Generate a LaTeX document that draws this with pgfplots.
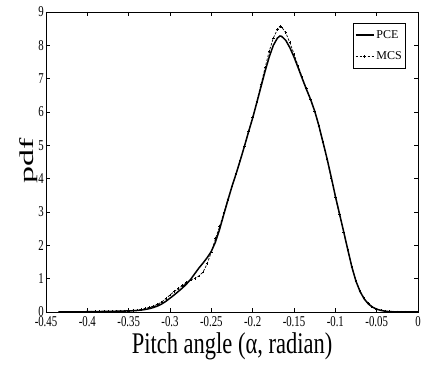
\documentclass[border=0pt]{standalone}
\usepackage{pgfplots}
\pgfplotsset{compat=1.18}
\usepackage{pgfplotstable}
\usepackage{graphicx}
\usepackage{fontspec}
\setmainfont{Liberation Serif}
\newcommand{\sx}[1]{\scalebox{0.72}[1]{#1}}

\pgfplotstableread{
x y
-0.435 0.000
-0.430 0.001
-0.425 0.002
-0.420 0.003
-0.415 0.004
-0.410 0.005
-0.405 0.006
-0.400 0.008
-0.395 0.010
-0.390 0.012
-0.385 0.014
-0.380 0.016
-0.375 0.018
-0.370 0.020
-0.365 0.023
-0.360 0.026
-0.355 0.029
-0.350 0.033
-0.345 0.038
-0.340 0.045
-0.335 0.058
-0.330 0.075
-0.325 0.100
-0.320 0.135
-0.315 0.180
-0.310 0.240
-0.305 0.320
-0.300 0.415
-0.295 0.510
-0.290 0.615
-0.285 0.720
-0.280 0.840
-0.275 0.980
-0.270 1.150
-0.265 1.320
-0.260 1.470
-0.255 1.630
-0.250 1.820
-0.245 2.100
-0.240 2.480
-0.235 2.920
-0.230 3.350
-0.225 3.770
-0.220 4.150
-0.215 4.550
-0.210 4.970
-0.205 5.400
-0.200 5.820
-0.195 6.280
-0.190 6.750
-0.185 7.220
-0.180 7.650
-0.175 8.000
-0.170 8.220
-0.167 8.280
-0.165 8.270
-0.160 8.150
-0.155 7.930
-0.150 7.650
-0.145 7.330
-0.140 7.000
-0.135 6.680
-0.130 6.380
-0.125 6.030
-0.120 5.600
-0.115 5.100
-0.110 4.600
-0.105 4.050
-0.100 3.480
-0.095 2.950
-0.090 2.420
-0.085 1.880
-0.080 1.350
-0.075 0.920
-0.070 0.610
-0.065 0.390
-0.060 0.240
-0.055 0.145
-0.050 0.085
-0.045 0.048
-0.040 0.025
-0.035 0.012
-0.030 0.006
-0.025 0.003
-0.020 0.001
-0.010 0.000
0.000 0.000
}\pce

\pgfplotstableread{
x y
-0.400 0.005
-0.395 0.008
-0.390 0.010
-0.385 0.012
-0.380 0.014
-0.375 0.016
-0.370 0.019
-0.365 0.022
-0.360 0.026
-0.355 0.030
-0.350 0.036
-0.345 0.044
-0.340 0.055
-0.335 0.072
-0.330 0.100
-0.325 0.140
-0.320 0.180
-0.315 0.230
-0.310 0.300
-0.305 0.400
-0.300 0.510
-0.295 0.610
-0.290 0.700
-0.285 0.790
-0.280 0.880
-0.275 0.960
-0.270 1.010
-0.265 1.080
-0.260 1.200
-0.255 1.450
-0.250 1.800
-0.245 2.200
-0.240 2.560
-0.235 2.960
-0.230 3.380
-0.225 3.780
-0.220 4.150
-0.215 4.560
-0.210 4.980
-0.205 5.410
-0.200 5.840
-0.195 6.320
-0.190 6.820
-0.185 7.330
-0.180 7.820
-0.175 8.220
-0.170 8.480
-0.167 8.560
-0.165 8.550
-0.160 8.380
-0.155 8.080
-0.150 7.740
-0.145 7.380
-0.140 7.030
-0.135 6.700
-0.130 6.390
-0.125 6.030
-0.120 5.580
-0.115 5.080
-0.110 4.570
-0.105 4.020
-0.100 3.450
-0.095 2.930
-0.090 2.400
-0.085 1.870
-0.080 1.350
-0.075 0.930
-0.070 0.620
-0.065 0.400
-0.060 0.250
-0.055 0.150
-0.050 0.090
-0.045 0.052
-0.040 0.028
-0.035 0.014
-0.030 0.007
-0.025 0.003
-0.020 0.001
-0.015 0.000
}\mcs

\begin{document}
\begin{tikzpicture}
\begin{axis}[
  name=ax,
  scale only axis,
  width=372pt, height=300pt,
  xmin=-0.45, xmax=0, ymin=0, ymax=9,
  xtick={-0.45,-0.4,-0.35,-0.3,-0.25,-0.2,-0.15,-0.1,-0.05,0},
  xticklabels={\sx{-0.45},\sx{-0.4},\sx{-0.35},\sx{-0.3},\sx{-0.25},\sx{-0.2},\sx{-0.15},\sx{-0.1},\sx{-0.05},\sx{0}},
  ytick={0,1,2,3,4,5,6,7,8,9},
  yticklabels={\sx{0},\sx{1},\sx{2},\sx{3},\sx{4},\sx{5},\sx{6},\sx{7},\sx{8},\sx{9}},
  tick align=inside,
  major tick length=4pt,
  every tick/.style={black, line width=0.5pt},
  axis line style={line width=0.8pt},
  tick label style={font=\fontsize{15}{15}\selectfont},
  xticklabel style={inner ysep=0pt, yshift=-4pt},
  yticklabel style={inner xsep=0pt, xshift=-2pt},
  xlabel={\scalebox{0.75}[1]{Pitch angle (α, radian)}},
  xlabel style={font=\fontsize{30}{30}\selectfont, at={(axis description cs:0.5,0)}, anchor=base, yshift=-42pt, inner sep=0pt},
  ylabel={\scalebox{1}[0.58]{pdf}},
  ylabel style={font=\fontsize{34}{34}\selectfont, at={(axis description cs:-0.047,0.505)}, anchor=center, inner sep=0pt},
  legend style={at={(axis description cs:1,1)}, anchor=north east, xshift=-12pt, yshift=-11pt,
    draw=black, line width=0.6pt, font=\fontsize{12}{12}\selectfont, inner xsep=2pt, inner ysep=5pt, row sep=8pt,
    legend cell align=left},
  legend image code/.code={\draw[mark repeat=2,mark phase=2,#1] plot coordinates {(0pt,0pt) (9pt,0pt) (18pt,0pt)};},
]
\addplot[black, line width=1.5pt, no marks] table[x=x,y=y] {\pce};
\addlegendentry{PCE}
\addplot[black, line width=0.7pt, dash pattern=on 2.5pt off 1.5pt, mark=+, mark size=1.2pt, mark options={solid, line width=0.5pt}] table[x=x,y=y] {\mcs};
\addlegendentry{MCS}
\end{axis}
\pgfresetboundingbox
\path ([shift={(-46pt,-53pt)}]ax.south west) rectangle ([shift={(7pt,12pt)}]ax.north east);
\end{tikzpicture}
\end{document}
